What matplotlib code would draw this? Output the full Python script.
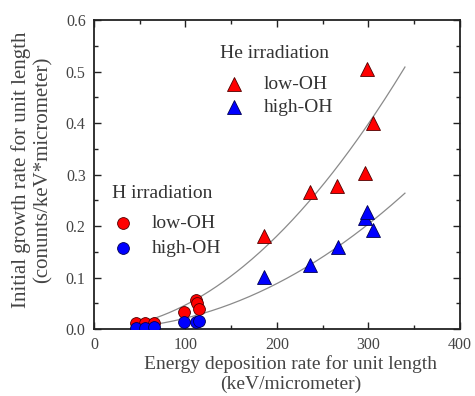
import matplotlib
matplotlib.use('Agg')
import matplotlib.pyplot as plt
from matplotlib.ticker import MultipleLocator
import numpy as np

plt.rcParams['font.family'] = ['Liberation Serif', 'DejaVu Serif']

# H irradiation (circles)
h_low_x = [46, 56, 66, 98, 112, 113, 115]
h_low_y = [0.012, 0.012, 0.012, 0.033, 0.056, 0.050, 0.039]
h_high_x = [46, 56, 66, 98, 112, 115]
h_high_y = [0.003, 0.003, 0.005, 0.013, 0.014, 0.016]

# He irradiation (triangles)
he_low_x = [186, 236, 266, 296, 299, 305]
he_low_y = [0.181, 0.266, 0.278, 0.303, 0.505, 0.400]
he_high_x = [186, 236, 267, 296, 299, 305]
he_high_y = [0.101, 0.124, 0.159, 0.215, 0.227, 0.192]

# power-law trend lines y = a * (x / 340) ** b
low_fit = (0.509, 1.95)
high_fit = (0.264, 2.06)
fit_range = (45, 340)

fig = plt.figure(figsize=(4.75, 3.96), dpi=100)
ax = fig.add_axes([0.198, 0.169, 0.770, 0.780])

xf = np.linspace(fit_range[0], fit_range[1], 200)
for a, b in (low_fit, high_fit):
    ax.plot(xf, a * (xf / 340.0) ** b, color='#8a8a8a', lw=0.9, zorder=1)

tri = dict(marker='^', ms=9.5, ls='none', mew=0.6, zorder=3)
cir = dict(marker='o', ms=8.5, ls='none', mew=0.6, zorder=3)
red = dict(mfc='#ff0000', mec='#500000')
blue = dict(mfc='#0000ff', mec='#000050')

ax.plot(he_low_x, he_low_y, **tri, **red)
ax.plot(he_high_x, he_high_y, **tri, **blue)
ax.plot(h_low_x, h_low_y, **cir, **red)
ax.plot(h_high_x, h_high_y, **cir, **blue)

# in-plot legends
tc = '#333333'
ax.text(138, 0.536, 'He irradiation', fontsize=14, color=tc, va='center')
ax.plot([153], [0.476], **tri, **red)
ax.plot([153], [0.431], **tri, **blue)
ax.text(186, 0.476, 'low-OH', fontsize=14, color=tc, va='center')
ax.text(186, 0.431, 'high-OH', fontsize=14, color=tc, va='center')

ax.text(20, 0.264, 'H irradiation', fontsize=14, color=tc, va='center')
ax.plot([32], [0.206], **cir, **red)
ax.plot([32], [0.157], **cir, **blue)
ax.text(63, 0.206, 'low-OH', fontsize=14, color=tc, va='center')
ax.text(63, 0.157, 'high-OH', fontsize=14, color=tc, va='center')

ax.set_xlim(0, 400)
ax.set_ylim(0, 0.6)
ax.xaxis.set_major_locator(MultipleLocator(100))
ax.xaxis.set_minor_locator(MultipleLocator(50))
ax.yaxis.set_major_locator(MultipleLocator(0.1))
ax.yaxis.set_minor_locator(MultipleLocator(0.05))
ax.yaxis.set_major_formatter(plt.FormatStrFormatter('%.1f'))
ax.tick_params(which='both', direction='in', top=True, right=True,
               labelsize=11.5, labelcolor='#444444', color='#222222', pad=6)
ax.tick_params(which='major', length=5, width=1)
ax.tick_params(which='minor', length=3, width=1)
for s in ax.spines.values():
    s.set_linewidth(1.3)
    s.set_color('#222222')

ax.set_xlabel('Energy deposition rate for unit length\n(keV/micrometer)',
              fontsize=14, color='#444444', linespacing=1.25, va='top')
ax.set_ylabel('Initial growth rate for unit length\n(conunts/keV*micrometer)',
              fontsize=15, color='#444444', linespacing=1.15, va='bottom')
ax.xaxis.set_label_coords(0.538, -0.083, transform=ax.transAxes)
ax.yaxis.set_label_coords(-0.113, 0.515, transform=ax.transAxes)

fig.savefig('out.png', dpi=100)
